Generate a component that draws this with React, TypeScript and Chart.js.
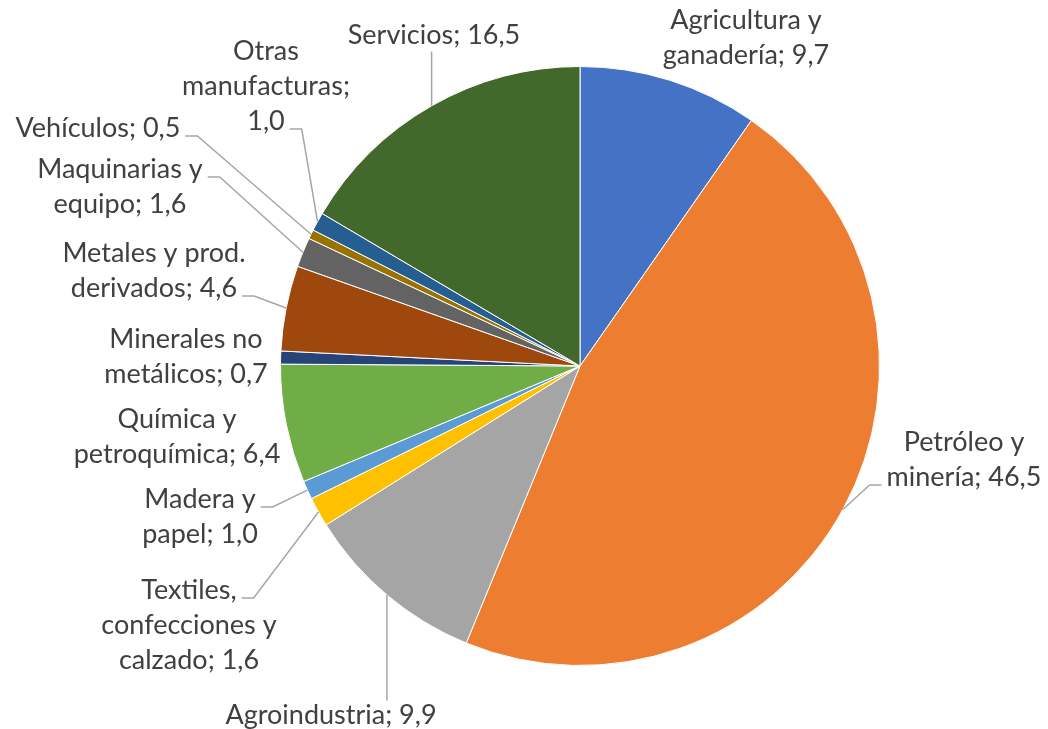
import React, { useEffect, useRef } from "react";
import { Chart, registerables } from "chart.js";
Chart.register(...registerables);

const categories = [
  "Agricultura y ganadería",
  "Petróleo y minería",
  "Agroindustria",
  "Textiles, confecciones y calzado",
  "Madera y papel",
  "Química y petroquímica",
  "Minerales no metálicos",
  "Metales y prod. derivados",
  "Maquinarias y equipo",
  "Vehículos",
  "Otras manufacturas",
  "Servicios",
];
const values = [9.7, 46.5, 9.9, 1.6, 1.0, 6.4, 0.7, 4.6, 1.6, 0.5, 1.0, 16.5];
const colors = [
  "#4472C4", "#ED7D31", "#A5A5A5", "#FFC000", "#5B9BD5", "#70AD47",
  "#264478", "#9E480E", "#636363", "#997300", "#255E91", "#43682B",
];
// words per wrapped line of each data label
const wordsPerLine = [
  [2, 2], [2, 2], [2], [1, 2, 2], [2, 2], [2, 2], [2, 2], [3, 2], [2, 2], [2], [1, 1, 1], [2],
];
// label block centre, offset from pie centre (px)
const labelOffsets: [number, number][] = [
  [166, -328], [384, 93.5], [-249, 349], [-391, 259], [-380, 150.5], [-403, 70.5],
  [-394, -9.5], [-426, -95.5], [-460, -179.5], [-482, -238], [-314, -280], [-146, -331],
];
// leader line: null = none, number = line index for elbow, "top"/"bottom" = vertical
const leaderAttach: (number | string | null)[] = [
  null, 1, "top", 0, 0, null, null, 1, 0, 0, 2, "bottom",
];

const FONT = "27px Lato";
const LINE_H = 35;
const TEXT_COLOR = "#404040";
const LEADER_COLOR = "#A6A6A6";

const fmt = (v: number) => v.toFixed(1).replace(".", ",");

function buildLines(i: number): string[] {
  const words = `${categories[i]}; ${fmt(values[i])}`.split(" ");
  const out: string[] = [];
  let k = 0;
  for (const n of wordsPerLine[i]) {
    out.push(words.slice(k, k + n).join(" "));
    k += n;
  }
  return out;
}

const labelPlugin = {
  id: "pieLabels",
  afterDatasetsDraw(chart: any) {
    const ctx = chart.ctx as CanvasRenderingContext2D;
    const meta = chart.getDatasetMeta(0);
    ctx.save();
    ctx.font = FONT;
    ctx.textAlign = "center";
    ctx.textBaseline = "middle";
    meta.data.forEach((arc: any, i: number) => {
      const cx = arc.x, cy = arc.y, r = arc.outerRadius;
      const mid = (arc.startAngle + arc.endAngle) / 2;
      const px = cx + Math.cos(mid) * r;
      const py = cy + Math.sin(mid) * r;
      const lines = buildLines(i);
      const bx = cx + labelOffsets[i][0];
      const by = cy + labelOffsets[i][1];
      const top = by - (lines.length * LINE_H) / 2;
      // leader
      const att = leaderAttach[i];
      if (att !== null) {
        ctx.strokeStyle = LEADER_COLOR;
        ctx.lineWidth = 1.5;
        ctx.beginPath();
        if (att === "top") {
          ctx.moveTo(px, py);
          ctx.lineTo(px, top + 3);
        } else if (att === "bottom") {
          ctx.moveTo(px, py);
          ctx.lineTo(px, top + lines.length * LINE_H - 1);
        } else {
          const li = att as number;
          const w = ctx.measureText(lines[li]).width;
          const ly = top + LINE_H * li + LINE_H / 2 + 8;
          if (bx < px) {
            const ex = bx + w / 2 + 5;
            ctx.moveTo(px, py);
            ctx.lineTo(ex + 12, ly);
            ctx.lineTo(ex, ly);
          } else {
            const ex = bx - w / 2 - 5;
            ctx.moveTo(px, py);
            ctx.lineTo(ex - 12, ly);
            ctx.lineTo(ex, ly);
          }
        }
        ctx.stroke();
      }
      ctx.fillStyle = TEXT_COLOR;
      lines.forEach((t, li) => {
        ctx.fillText(t, bx, top + LINE_H * li + LINE_H / 2);
      });
    });
    ctx.restore();
  },
};

export default function App() {
  const ref = useRef<HTMLCanvasElement>(null);
  useEffect(() => {
    const chart = new Chart(ref.current!, {
      type: "pie",
      data: {
        labels: categories,
        datasets: [
          {
            data: values,
            backgroundColor: colors,
            borderColor: "#FFFFFF",
            borderWidth: 1,
          },
        ],
      },
      options: {
        responsive: false,
        animation: false,
        layout: { padding: { top: 66, bottom: 63, left: 280, right: 168 } },
        plugins: { legend: { display: false }, tooltip: { enabled: false } },
      },
      plugins: [labelPlugin],
    });
    return () => chart.destroy();
  }, []);
  return (
    <div style={{ position: "fixed", left: 0, top: 0, width: 1048, height: 729, background: "#fff" }}>
      <canvas ref={ref} width={1048} height={729} style={{ display: "block" }} />
    </div>
  );
}
